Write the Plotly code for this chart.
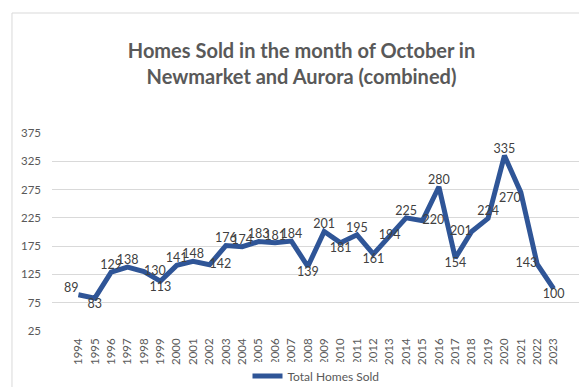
import plotly.graph_objects as go

years = [str(y) for y in range(1994, 2024)]
homes_sold = [89, 83, 129, 138, 130, 113, 141, 148, 142, 176, 174, 183, 181, 184, 139,
              201, 181, 195, 161, 194, 225, 220, 280, 154, 201, 224, 335, 270, 143, 100]
label_pos = ["top left", "bottom center", "top center", "top center", "middle right", "bottom center",
             "top center", "top center", "middle right", "top center", "top center", "top center",
             "top center", "top center", "bottom center", "top center", "bottom center", "top center",
             "bottom center", "middle center", "top center", "middle right", "top center", "bottom center",
             "middle left", "top center", "top center", "bottom left", "middle left", "bottom center"]

FONT = "Lato, Carlito, sans-serif"

fig = go.Figure()
fig.add_trace(go.Scatter(
    x=years, y=homes_sold, mode="lines+text", name="Total Homes Sold",
    line=dict(color="#2F5597", width=5),
    text=[str(v) for v in homes_sold], textposition=label_pos,
    textfont=dict(family=FONT, size=12.5, color="#404040"),
    cliponaxis=False,
))

fig.update_layout(
    width=587, height=387,
    paper_bgcolor="white", plot_bgcolor="white",
    margin=dict(l=44, r=15, t=125, b=64, autoexpand=False),
    title=dict(text="Homes Sold in the month of October in<br>Newmarket and Aurora (combined)",
               x=0.5, xanchor="center", y=0.87, yanchor="middle",
               font=dict(family=FONT, size=20, color="#595959", weight="bold")),
    showlegend=True,
    legend=dict(orientation="h", x=0.5, xanchor="center", yref="container", y=0.049, yanchor="middle",
                font=dict(family=FONT, size=12, color="#595959")),
    xaxis=dict(type="category", tickangle=-90, showgrid=False, showline=False, ticks="",
               ticklabelstandoff=4,
               tickfont=dict(family=FONT, size=11.5, color="#595959")),
    yaxis=dict(range=[25, 375], tickvals=[25, 75, 125, 175, 225, 275, 325, 375],
               showgrid=True, gridcolor="#D9D9D9", gridwidth=1, zeroline=False, showline=False,
               ticks="", ticklabelstandoff=10,
               tickfont=dict(family=FONT, size=11.5, color="#595959")),
    shapes=[dict(type="rect", xref="paper", yref="paper", x0=-0.0758, x1=1.0114, y0=-0.293, y1=1.606,
                 line=dict(color="#D9D9D9", width=1))],
)

fig.write_html("out.html")
